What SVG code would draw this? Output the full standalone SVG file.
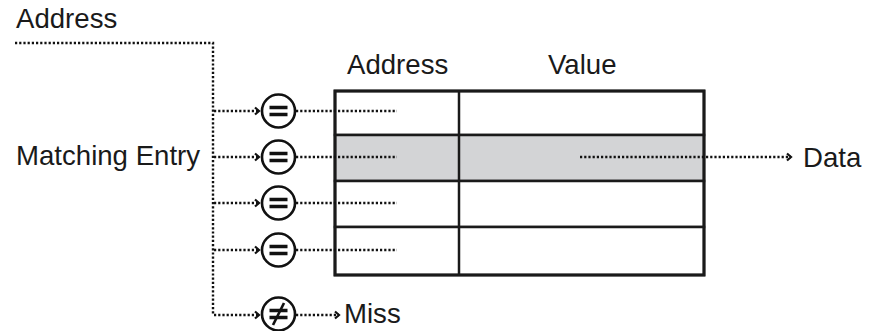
<svg xmlns="http://www.w3.org/2000/svg" width="874" height="331" viewBox="0 0 874 331">
<defs>
<style>
text{font-family:"Liberation Sans",Arial,sans-serif;font-size:27.6px;fill:#1a1a1a}
.dot{fill:none;stroke:#111;stroke-width:2.4;stroke-dasharray:2.2 2}
.cmp{fill:#fff;stroke:#111;stroke-width:2.6}
.bar{stroke:#111;stroke-width:3.4;fill:none}
.cell{stroke:#1a1a1a;stroke-width:2.5}
</style>
<marker id="arr" markerUnits="userSpaceOnUse" markerWidth="8" markerHeight="10" refX="5" refY="5" orient="auto">
<path d="M1,1.5 L5,5 L1,8.5" fill="none" stroke="#111" stroke-width="2.2"/>
</marker>
</defs>
<rect width="874" height="331" fill="#fff"/>
<g id="table">
<rect x="335" y="91" width="369" height="44" fill="#fff" class="cell"/>
<rect x="335" y="135" width="369" height="46" fill="#d3d4d6" class="cell"/>
<rect x="335" y="181" width="369" height="46" fill="#fff" class="cell"/>
<rect x="335" y="227" width="369" height="48" fill="#fff" class="cell"/>
<line x1="459" y1="91" x2="459" y2="275" class="cell"/>
<rect x="335" y="91" width="369" height="184" fill="none" stroke="#1a1a1a" stroke-width="3"/>
<text x="347" y="74">Address</text>
<text x="548" y="74">Value</text>
</g>
<g id="labels">
<text x="16" y="28">Address</text>
<text x="16" y="165">Matching Entry</text>
<text x="803" y="167">Data</text>
<text x="344" y="323">Miss</text>
</g>
<g id="connectors">
<path class="dot" d="M15,43 H213 V315"/>
<path class="dot" d="M214,111 H259" marker-end="url(#arr)"/>
<path class="dot" d="M214,157 H259" marker-end="url(#arr)"/>
<path class="dot" d="M214,203 H259" marker-end="url(#arr)"/>
<path class="dot" d="M214,250 H259" marker-end="url(#arr)"/>
<path class="dot" d="M214,315 H259" marker-end="url(#arr)"/>
<path class="dot" d="M296,111 H397"/>
<path class="dot" d="M296,157 H397"/>
<path class="dot" d="M296,203 H397"/>
<path class="dot" d="M296,250 H397"/>
<path class="dot" d="M296,315 H339" marker-end="url(#arr)"/>
<path class="dot" d="M580,157 H791" marker-end="url(#arr)"/>
</g>
<g id="eq1"><circle cx="278.5" cy="111" r="16.5" class="cmp"/><path class="bar" d="M269.5,107.5 H287.5 M269.5,114.5 H287.5"/></g>
<g id="eq2"><circle cx="278.5" cy="157" r="16.5" class="cmp"/><path class="bar" d="M269.5,153.5 H287.5 M269.5,160.5 H287.5"/></g>
<g id="eq3"><circle cx="278.5" cy="203" r="16.5" class="cmp"/><path class="bar" d="M269.5,199.5 H287.5 M269.5,206.5 H287.5"/></g>
<g id="eq4"><circle cx="278.5" cy="250" r="16.5" class="cmp"/><path class="bar" d="M269.5,246.5 H287.5 M269.5,253.5 H287.5"/></g>
<g id="neq"><circle cx="278.5" cy="314" r="16.5" class="cmp"/><path class="bar" d="M269.5,310.5 H287.5 M269.5,317.5 H287.5"/><path d="M284,303 L273,325" stroke="#111" stroke-width="2.6" fill="none"/></g>
</svg>
